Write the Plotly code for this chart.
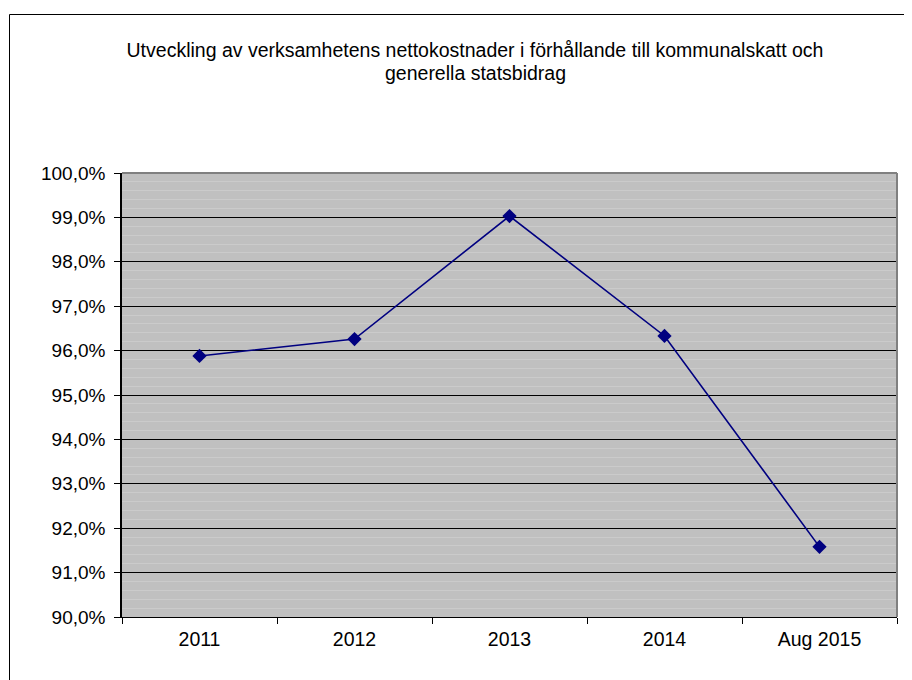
import plotly.graph_objects as go

categories = ["2011", "2012", "2013", "2014", "Aug 2015"]
values = [0.9588, 0.9626, 0.9903, 0.9633, 0.9158]

title_line1 = "Utveckling av verksamhetens nettokostnader i förhållande till kommunalskatt och"
title_line2 = "generella statsbidrag"

font_family = "Arial, Liberation Sans, sans-serif"

W, H = 904, 672
L, T, PW, PH = 114, 165, 775, 444

fig = go.Figure()
fig.add_trace(go.Scatter(
    x=categories, y=values, mode="lines+markers",
    line=dict(color="#000080", width=1.6),
    marker=dict(symbol="diamond", size=11, color="#000080"),
    showlegend=False,
))

fig.update_layout(
    width=W, height=H,
    margin=dict(l=L, r=W - L - PW, t=T, b=H - T - PH),
    paper_bgcolor="white",
    plot_bgcolor="#c0c0c0",
    separators=", ",
    font=dict(family=font_family, size=19, color="black"),
    title=dict(text=title_line1, x=467 / W, xanchor="center",
               y=1 - 42 / H, yanchor="middle", yref="container",
               font=dict(family=font_family, size=19.5, color="black")),
    annotations=[
        dict(text=title_line2, xref="paper", yref="paper",
             x=(467 - L) / PW, y=(T + PH - 65) / PH,
             xanchor="center", yanchor="middle", showarrow=False,
             font=dict(family=font_family, size=19.5, color="black")),
    ],
    xaxis=dict(
        type="category", range=[-0.5, 4.5],
        showgrid=False, zeroline=False,
        showline=True, linecolor="black", linewidth=1,
        ticks="outside", tickson="boundaries", ticklen=6, tickcolor="black",
        tickfont=dict(size=19.5), ticklabelstandoff=5,
    ),
    yaxis=dict(
        range=[0.90, 1.00], dtick=0.01, tickformat=".1%",
        showgrid=True, gridcolor="black", gridwidth=1,
        zeroline=False,
        showline=True, linecolor="black", linewidth=1.5,
        ticks="outside", ticklen=6, tickcolor="black",
        tickfont=dict(size=19), ticklabelstandoff=5,
        minor=dict(dtick=0.002, showgrid=True, gridcolor="#cbcbcb", gridwidth=1),
    ),
    shapes=[
        dict(type="line", xref="paper", yref="paper", x0=0, x1=1, y0=1, y1=1,
             line=dict(color="#808080", width=2), layer="above"),
        dict(type="line", xref="paper", yref="paper", x0=1, x1=1, y0=0, y1=1,
             line=dict(color="#808080", width=2), layer="above"),
        dict(type="rect", xref="paper", yref="paper",
             x0=(1.5 - L) / PW, x1=(930 - L) / PW,
             y0=(T + PH - 700) / PH, y1=(T + PH - 6.5) / PH,
             line=dict(color="black", width=1), layer="below"),
    ],
)

fig.write_html("out.html")
